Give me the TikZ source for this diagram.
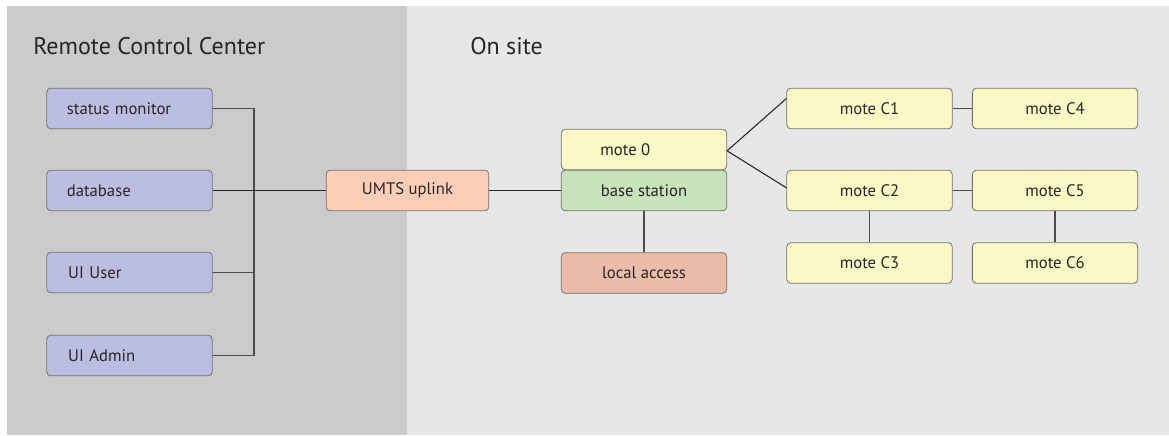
\documentclass[tikz,border=0pt]{standalone}
\usepackage{fontspec}
\setmainfont{PT Sans}
\begin{document}
\begin{tikzpicture}[x=0.75pt,y=-0.75pt,
  box/.style={draw=black!55, line width=0.6pt, rounded corners=3pt, minimum width=124pt, minimum height=30.5pt, inner sep=0pt, font=\fontsize{12.5}{14}\selectfont, text=black!85},
  rcc/.style={box, fill=blueg, text width=124pt, align=left},
  mote/.style={box, fill=moteY},
  link/.style={line width=0.8pt, black!85},
  tlink/.style={line width=1.3pt, black!70}]
\definecolor{blueg}{HTML}{BBBEE0}
\definecolor{moteY}{HTML}{FBF8C6}
\definecolor{umts}{HTML}{FDCDB8}
\definecolor{basegreen}{HTML}{C8E3BA}
\definecolor{localacc}{HTML}{EBBCA8}
\definecolor{panelA}{HTML}{CBCBCB}
\definecolor{panelB}{HTML}{E6E8E7}
\useasboundingbox (0,0) rectangle (1169,435);
\fill[white] (0,0) rectangle (1169,435);
\fill[panelA] (7,6) rectangle (407,435);
\fill[panelB] (407,6) rectangle (1169,435);
\node[anchor=west, font=\fontsize{18}{20}\selectfont, text=black!85, inner sep=0pt] (t1) at (33,46) {Remote Control Center};
\node[anchor=west, font=\fontsize{18}{20}\selectfont, text=black!85, inner sep=0pt] (t2) at (470,46) {On site};
% left
\node[rcc] (sm) at (129.5,108.5) {\hspace*{15pt}status monitor};
\node[rcc] (db) at (129.5,190.5) {\hspace*{15pt}database};
\node[rcc] (uu) at (129.5,272.5) {\hspace*{16pt}UI User};
\node[rcc] (ua) at (129.5,355.5) {\hspace*{16pt}UI Admin};
\draw[tlink] (sm.east) -| (254,109) -- (254,355.5) -- (ua.east);
\draw[tlink] (uu.east) -- (254,272.5);
% middle
\node[box, fill=umts, minimum width=122pt] (um) at (407.5,190.5) {UMTS uplink};
\node[box, fill=moteY] (m0) at (644,149.5) {\hspace*{-28pt}mote 0};
\node[box, fill=basegreen] (bs) at (644,190.5) {base station};
\node[box, fill=localacc] (la) at (644,273) {local access};
\draw[link] (db.east) -- (um.west);
\draw[link] (um.east) -- (bs.west);
\draw[tlink] (bs.south) -- (la.north);
% motes
\node[mote] (c1) at (869.5,108.5) {mote C1};
\node[mote] (c4) at (1055,108.5) {mote C4};
\node[mote] (c2) at (869.5,190.5) {mote C2};
\node[mote] (c5) at (1055,190.5) {mote C5};
\node[mote] (c3) at (869.5,263) {mote C3};
\node[mote] (c6) at (1055,263) {mote C6};
\draw[link] ([yshift=-1pt]m0.east) -- ([yshift=7.5pt]c1.west);
\draw[link] ([yshift=-1pt]m0.east) -- ([yshift=2pt]c2.west);
\draw[tlink] (c1.east) -- (c4.west);
\draw[tlink] (c2.east) -- (c5.west);
\draw[tlink] (c2.south) -- (c3.north);
\draw[tlink] (c5.south) -- (c6.north);
\end{tikzpicture}
\end{document}
